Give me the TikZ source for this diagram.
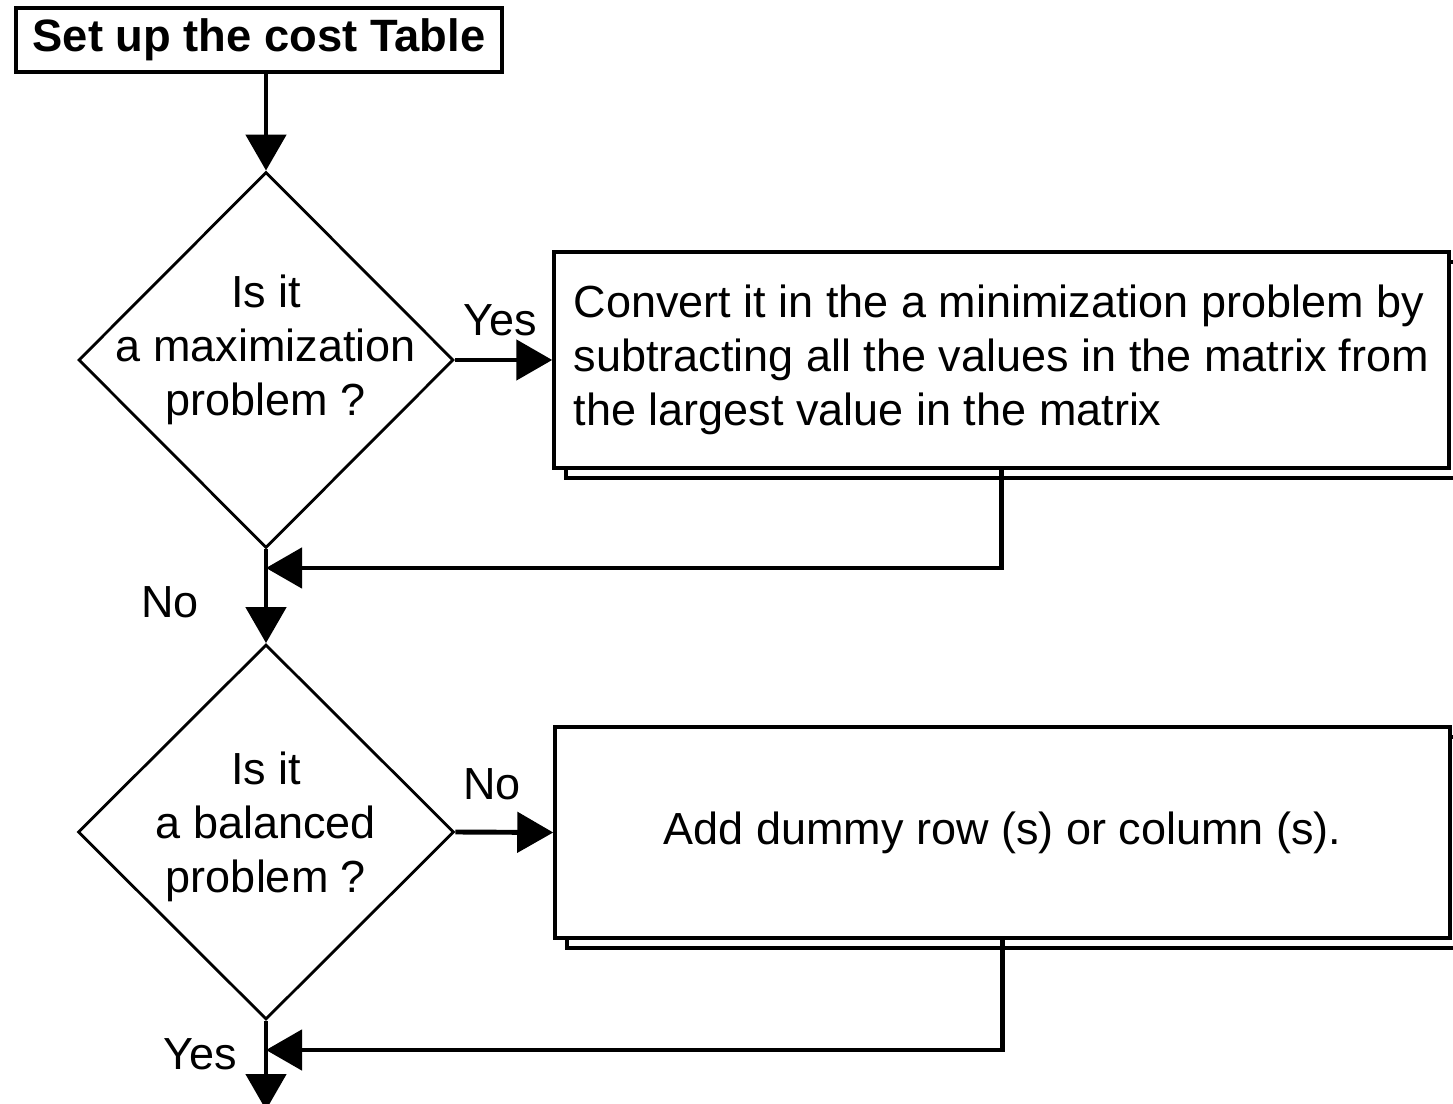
\documentclass[tikz,border=0pt]{standalone}
\usepackage{fontspec}
\setmainfont{Liberation Sans}
\usetikzlibrary{shapes.geometric,arrows.meta,shadows}
\begin{document}
\begin{tikzpicture}[font=\fontsize{12.8}{15.4}\selectfont,
  flow/.style={line width=1.4pt,-{Triangle[length=3.6mm,width=4mm]}},
  decision/.style={diamond,draw,line width=0.8pt,inner sep=0pt},
  action/.style={rectangle,draw,line width=1pt,fill=white,minimum width=8.95cm,
    copy shadow={shadow xshift=1.2mm,shadow yshift=-1mm}}]
\useasboundingbox (0,0) rectangle (14.53,-11.04);
\path
node[draw,line width=1pt,minimum width=4.86cm,minimum height=0.64cm,inner sep=0pt,font=\fontsize{12.9}{14}\selectfont\bfseries] (setup) at (2.59,-0.40) {Set up the cost Table}
node[decision,minimum width=3.75cm,minimum height=3.76cm,
  label={[align=center,yshift=1mm]center:Is it\\a maximization\\problem ?}] (max) at (2.66,-3.60) {}
node[action,minimum height=2.16cm,align=left] (conv) at (10.015,-3.60)
  {Convert it in the a minimization problem by\\subtracting all the values in the matrix from\\the largest value in the matrix}
node[decision,minimum width=3.76cm,minimum height=3.75cm,
  label={[align=center,yshift=0.5mm]center:Is it\\a balanced\\problem ?}] (bal) at (2.66,-8.32) {}
node[action,minimum height=2.11cm] (dummy) at (10.025,-8.325) {Add dummy row (s) or column (s).}
node (yes1) at (5.00,-3.20) {Yes}
node (no1) at (1.70,-6.02) {No}
node (no2) at (4.92,-7.84) {No}
node (yes2) at (2.00,-10.54) {Yes};
\coordinate (join1) at (2.66,-5.68);
\coordinate (join2) at (2.66,-10.50);
\coordinate (out) at (2.66,-11.10);
\draw[flow] (setup.south -| max.north) -- (max.north);
\draw[flow] (max.east) -- (conv.west);
\draw[flow] (conv.south) |- (join1);
\draw[flow] (max.south) -- (bal.north);
\draw[flow] (bal.east) -- (dummy.west);
\draw[flow] (dummy.south) |- (join2);
\draw[flow] (bal.south) -- (out);
\end{tikzpicture}
\end{document}
